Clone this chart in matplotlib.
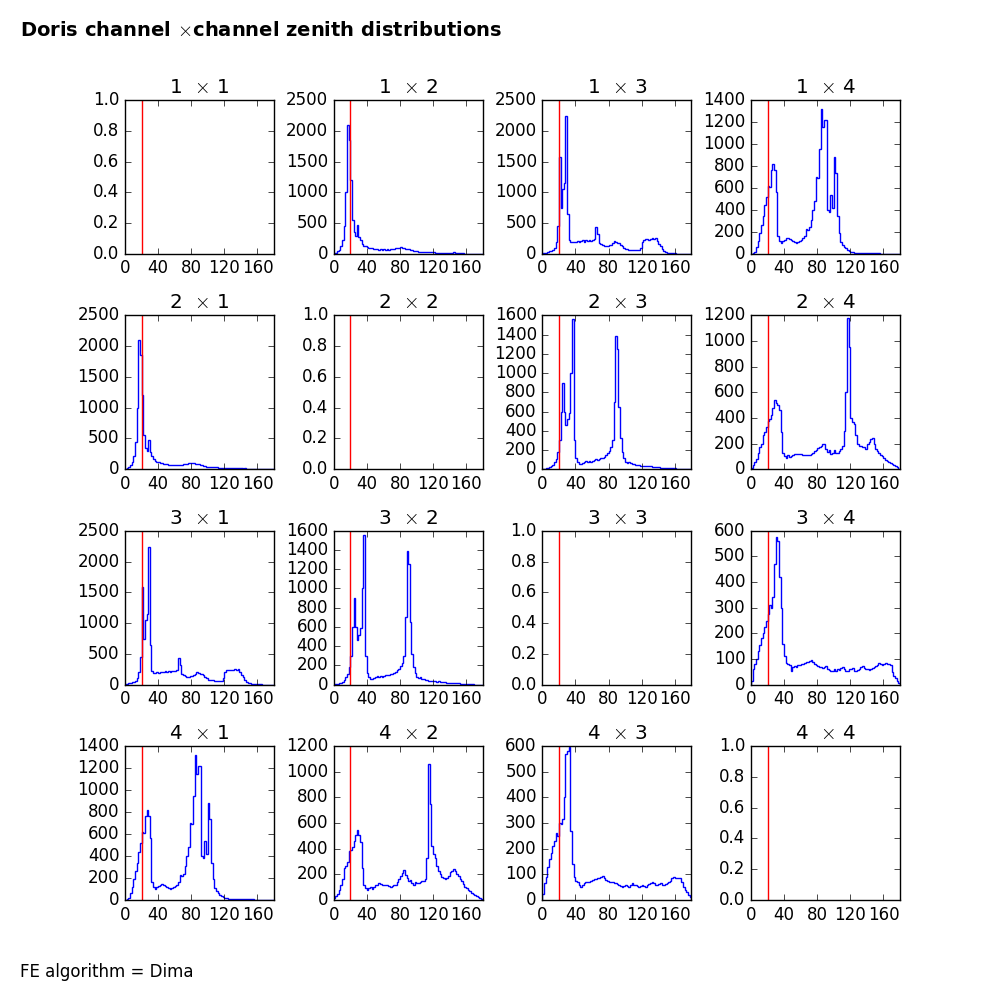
import numpy as np
import matplotlib
matplotlib.use('Agg')
import matplotlib.pyplot as plt

plt.style.use('classic')
plt.rcParams['figure.facecolor'] = 'white'
plt.rcParams['savefig.facecolor'] = 'white'

# zenith angle histograms, 2 degree bins from 0 to 180
edges = np.arange(0, 182, 2)

h12 = [10, 20, 40, 70, 120, 220, 450, 1000, 2100, 1850,
       1200, 550, 350, 290, 470, 280, 220, 160, 130, 120,
       110, 100, 95, 90, 85, 80, 75, 70, 75, 70,
       75, 70, 75, 70, 75, 80, 85, 90, 95, 100,
       105, 95, 90, 85, 80, 75, 65, 60, 50, 40,
       40, 35, 35, 30, 30, 30, 25, 25, 25, 25,
       25, 20, 20, 20, 20, 20, 15, 20, 15, 15,
       15, 10, 25, 10, 10, 10, 10, 10, 8, 5,
       5, 5, 3, 3, 2, 2, 0, 0, 0, 0]

h13 = [10, 15, 20, 30, 40, 50, 60, 100, 200, 450,
       1580, 740, 1050, 1150, 2240, 650, 220, 190, 190, 200,
       190, 210, 200, 210, 220, 200, 220, 210, 220, 215,
       220, 240, 440, 320, 180, 160, 140, 130, 130, 135,
       140, 150, 170, 210, 190, 175, 170, 150, 120, 100,
       80, 75, 70, 70, 65, 65, 60, 60, 55, 100,
       200, 230, 240, 240, 230, 240, 250, 240, 250, 210,
       160, 120, 80, 50, 30, 20, 15, 15, 10, 10,
       8, 5, 3, 0, 0, 0, 0, 0, 0, 0]

h14 = [0, 5, 20, 60, 120, 190, 260, 340, 440, 520,
       620, 610, 760, 820, 760, 560, 160, 120, 100, 120,
       130, 140, 145, 135, 130, 115, 110, 100, 105, 115,
       125, 140, 160, 230, 220, 240, 310, 400, 480, 700,
       690, 950, 1320, 1150, 1220, 1220, 400, 380, 540, 420,
       880, 740, 340, 190, 110, 80, 65, 50, 35, 25,
       18, 15, 12, 10, 8, 6, 5, 5, 5, 5,
       5, 5, 5, 5, 5, 5, 5, 5, 0, 0,
       0, 0, 0, 0, 0, 0, 0, 0, 0, 0]

h23 = [5, 7, 10, 15, 20, 30, 45, 80, 110, 180,
       300, 600, 900, 600, 460, 520, 590, 1000, 1560, 300,
       120, 80, 55, 55, 65, 80, 85, 80, 85, 80,
       85, 95, 105, 100, 110, 115, 120, 130, 150, 165,
       190, 230, 300, 700, 1390, 1250, 650, 320, 180, 120,
       80, 70, 75, 60, 55, 50, 45, 40, 40, 35,
       35, 35, 30, 35, 30, 30, 25, 25, 20, 20,
       20, 15, 15, 15, 12, 12, 10, 10, 10, 8,
       8, 6, 5, 5, 4, 0, 0, 0, 0, 0]

h24 = [10, 30, 55, 80, 130, 170, 200, 270, 290, 330,
       380, 395, 420, 480, 540, 520, 500, 460, 290, 130,
       105, 85, 110, 95, 100, 110, 115, 120, 118, 115,
       118, 112, 110, 110, 108, 112, 118, 125, 140, 150,
       165, 175, 185, 195, 200, 160, 135, 150, 120, 130,
       150, 125, 125, 145, 160, 185, 300, 600, 1180, 950,
       400, 370, 350, 270, 200, 185, 180, 175, 170, 160,
       200, 215, 235, 240, 200, 160, 140, 125, 110, 100,
       85, 75, 65, 58, 50, 40, 32, 25, 15, 5]

h42 = [15, 30, 50, 80, 120, 160, 250, 265, 300, 380,
       390, 410, 460, 510, 545, 505, 455, 250, 120, 90,
       80, 90, 100, 85, 105, 115, 120, 130, 125, 118,
       115, 118, 115, 108, 105, 110, 115, 120, 140, 160,
       185, 210, 235, 195, 170, 145, 155, 130, 120, 140,
       135, 130, 140, 145, 150, 160, 330, 1060, 750, 420,
       360, 330, 265, 225, 200, 180, 170, 165, 170, 185,
       215, 230, 245, 225, 200, 185, 165, 145, 125, 105,
       95, 80, 70, 55, 48, 40, 30, 20, 12, 5]

h34 = [15, 60, 80, 100, 130, 155, 180, 200, 225, 250,
       275, 310, 300, 340, 470, 575, 560, 420, 300, 160,
       110, 85, 80, 75, 55, 70, 72, 70, 75, 78,
       80, 82, 85, 88, 90, 92, 95, 90, 80, 75,
       72, 70, 68, 65, 70, 72, 62, 58, 55, 52,
       60, 55, 62, 58, 65, 70, 60, 52, 55, 60,
       62, 65, 55, 52, 58, 62, 68, 72, 65, 62,
       60, 58, 62, 65, 70, 72, 78, 85, 80, 78,
       82, 85, 80, 82, 75, 50, 35, 25, 15, 5]

h43 = [25, 65, 90, 130, 160, 185, 210, 230, 260, 250,
       300, 295, 315, 400, 570, 580, 598, 270, 140, 90,
       75, 70, 60, 52, 58, 65, 72, 70, 72, 76,
       78, 80, 82, 85, 87, 88, 92, 85, 78, 75,
       72, 70, 72, 68, 65, 62, 58, 55, 52, 55,
       58, 55, 52, 60, 65, 60, 58, 55, 52, 55,
       58, 55, 52, 58, 62, 65, 70, 68, 60, 58,
       62, 65, 60, 58, 62, 66, 70, 75, 85, 88,
       86, 87, 85, 84, 70, 52, 40, 30, 20, 12]

hists = {(1, 2): h12, (2, 1): h12, (1, 3): h13, (3, 1): h13,
         (1, 4): h14, (4, 1): h14, (2, 3): h23, (3, 2): h23,
         (2, 4): h24, (4, 2): h42, (3, 4): h34, (4, 3): h43}
ymax = {(1, 2): 2500, (2, 1): 2500, (1, 3): 2500, (3, 1): 2500,
        (1, 4): 1400, (4, 1): 1400, (2, 3): 1600, (3, 2): 1600,
        (2, 4): 1200, (4, 2): 1200, (3, 4): 600, (4, 3): 600}

cut = 20
centers = 0.5 * (edges[:-1] + edges[1:])

fig, axes = plt.subplots(4, 4, figsize=(10, 10))
plt.subplots_adjust(left=0.125, right=0.9, bottom=0.1, top=0.9,
                    wspace=0.4, hspace=0.4)

for i in range(4):
    for j in range(4):
        ax = axes[i, j]
        key = (i + 1, j + 1)
        if key in hists:
            ax.hist(centers, bins=edges, weights=hists[key],
                    histtype='step', color='b')
            ax.set_ylim(0, ymax[key])
        else:
            ax.set_ylim(0, 1)
        ax.axvline(cut, color='r')
        ax.set_xlim(0, 180)
        ax.set_xticks([0, 40, 80, 120, 160])
        ax.set_title('%d  $\\times$ %d' % key)

fig.text(0.02, 0.97, 'Doris channel $\\times$channel zenith distributions',
         fontsize=14, fontweight='bold', va='center')
fig.text(0.02, 0.028, 'FE algorithm = Dima', fontsize=12, va='center')

fig.savefig('out.png', dpi=100)
